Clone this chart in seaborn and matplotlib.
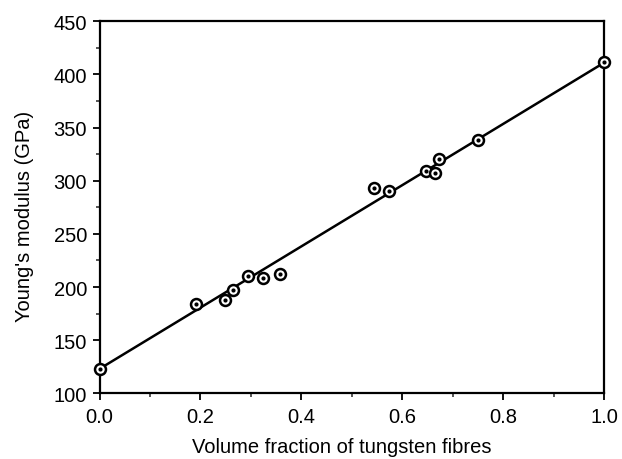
import matplotlib
matplotlib.use("Agg")
import matplotlib.pyplot as plt
from matplotlib.ticker import MultipleLocator
import seaborn as sns
import pandas as pd

# Data
volume_fraction = [0.0, 0.191, 0.248, 0.265, 0.294, 0.325, 0.358,
                   0.545, 0.574, 0.648, 0.666, 0.673, 0.751, 1.0]
youngs_modulus = [123, 184, 188, 197, 210, 208.5, 212,
                  293, 290, 309, 307.5, 320, 338.5, 412]
fit_x = [0.0, 1.0]
fit_y = [123, 411]

x_ticks = [0.0, 0.2, 0.4, 0.6, 0.8, 1.0]
y_ticks = [100, 150, 200, 250, 300, 350, 400, 450]

sns.set_theme(style="ticks")
plt.rcParams['font.family'] = ['Liberation Sans', 'DejaVu Sans']

df = pd.DataFrame({"x": volume_fraction, "y": youngs_modulus})
fit = pd.DataFrame({"x": fit_x, "y": fit_y})

fig = plt.figure(figsize=(6.22, 4.6), dpi=100)
ax = fig.add_axes([0.1600, 0.1428, 0.8110, 0.8087])

sns.lineplot(data=fit, x="x", y="y", ax=ax, color="black", linewidth=1.8, zorder=2)
sns.scatterplot(data=df, x="x", y="y", ax=ax, marker="o", s=62,
                facecolor="white", edgecolor="black", linewidth=1.8, zorder=3,
                clip_on=False)
sns.scatterplot(data=df, x="x", y="y", ax=ax, marker="o", s=9,
                color="black", edgecolor="black", linewidth=0, zorder=4,
                clip_on=False)

ax.set_xlim(0, 1.0)
ax.set_ylim(100, 450)
ax.set_xticks(x_ticks)
ax.set_yticks(y_ticks)
ax.set_xticklabels([f"{v:.1f}" for v in x_ticks])
ax.set_yticklabels([str(v) for v in y_ticks])
ax.xaxis.set_minor_locator(MultipleLocator(0.1))
ax.yaxis.set_minor_locator(MultipleLocator(25))

for s in ax.spines.values():
    s.set_visible(True)
    s.set_linewidth(1.6)
    s.set_color("black")

ax.tick_params(axis="both", which="major", labelsize=14.5, colors="black",
               length=5, width=1.3, direction="out")
ax.tick_params(axis="x", which="major", pad=5)
ax.tick_params(axis="y", which="major", pad=4)
ax.tick_params(axis="both", which="minor", length=3, width=1.1, direction="out")

ax.set_xlabel("Volume fraction of tungsten fibres", fontsize=14.5, color="black")
ax.set_ylabel("Young's modulus (GPa)", fontsize=14.5, color="black")
ax.xaxis.set_label_coords(0.481, -0.118)
ax.yaxis.set_label_coords(-0.130, 0.477)

fig.savefig("out.png", dpi=100)
